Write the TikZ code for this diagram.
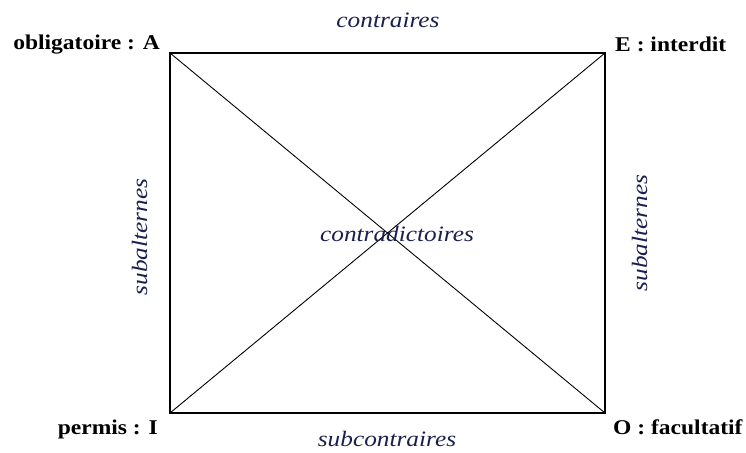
\documentclass[tikz,border=0pt]{standalone}
\usepackage{fontspec}
\setmainfont{Liberation Serif}
\newfontfamily\cornerfont[FakeStretch=1.12]{Liberation Serif}
\newfontfamily\relfont[FakeStretch=1.15]{Liberation Serif}
\usepackage{xcolor}
\usepackage{tikz}
\usetikzlibrary{positioning}

\definecolor{relblue}{RGB}{26,32,78}

\begin{document}
\begin{tikzpicture}[
    x=1pt, y=1pt,
    corner/.style={font=\cornerfont\fontsize{21}{25}\selectfont\bfseries, inner sep=0pt},
    relation/.style={font=\relfont\fontsize{22}{26}\selectfont\itshape, text=relblue, inner sep=0pt, anchor=base}
]
\useasboundingbox (0,0) rectangle (746,452);

% Square corners
\coordinate (A) at (170,399);
\coordinate (E) at (605,399);
\coordinate (I) at (170,39);
\coordinate (O) at (605,39);

% Square and diagonals
\draw[line width=1.4pt] (A) -- (E) -- (O) -- (I) -- cycle;
\draw[line width=0.9pt] (A) -- (O);
\draw[line width=0.9pt] (I) -- (E);

% Corner labels
\node[corner, anchor=base east] (lblA) at (160,402) {obligatoire : A};
\node[corner, anchor=base west] (lblE) at (615,400) {E : interdit};
\node[corner, anchor=base east] (lblI) at (158,17) {permis : I};
\node[corner, anchor=base west] (lblO) at (613,17) {O : facultatif};

% Relations
\node[relation] (contr) at (388,424) {contraires};
\node[relation] (contrad) at (397,210) {contradictoires};
\node[relation] (subcontr) at (387,6) {subcontraires};
\node[relation, rotate=90] (subL) at (147,215) {subalternes};
\node[relation, rotate=90] (subR) at (647,219) {subalternes};

\end{tikzpicture}
\end{document}
